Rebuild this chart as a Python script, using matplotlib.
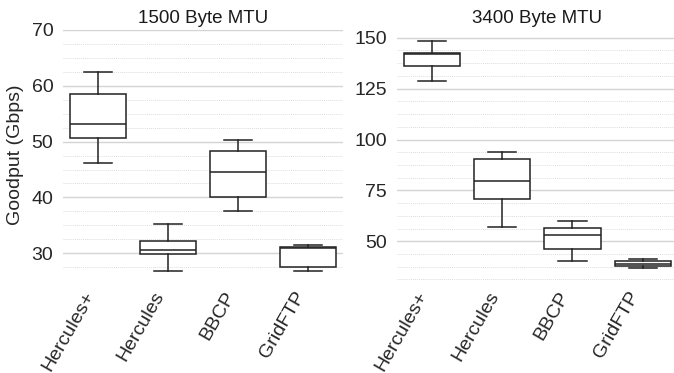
import matplotlib
matplotlib.use("Agg")
import matplotlib.pyplot as plt
from matplotlib.ticker import MultipleLocator

plt.rcParams['font.family'] = ['Liberation Sans', 'DejaVu Sans']

tools = ["Hercules+", "Hercules", "BBCP", "GridFTP"]

# 1500 Byte MTU goodput stats (Gbps)
mtu1500_whislo = [46.2, 26.9, 37.6, 26.9]
mtu1500_q1 = [50.6, 29.8, 40.1, 27.5]
mtu1500_med = [53.1, 30.5, 44.6, 30.9]
mtu1500_q3 = [58.5, 32.2, 48.3, 31.2]
mtu1500_whishi = [62.5, 35.3, 50.3, 31.5]

# 3400 Byte MTU goodput stats (Gbps)
mtu3400_whislo = [128.7, 56.9, 40.2, 36.9]
mtu3400_q1 = [136.1, 70.7, 46.3, 38.0]
mtu3400_med = [141.8, 79.7, 53.1, 38.9]
mtu3400_q3 = [142.6, 90.2, 56.4, 40.2]
mtu3400_whishi = [148.2, 93.9, 60.1, 41.2]

W, H = 674, 373
fig = plt.figure(figsize=(W / 100, H / 100), dpi=100)

top_px, bot_px = 30, 280
ax1 = fig.add_axes([63 / W, 1 - bot_px / H, 280 / W, (bot_px - top_px) / H])
ax2 = fig.add_axes([396.5 / W, 1 - bot_px / H, 281.5 / W, (bot_px - top_px) / H])

def make_stats(lo, q1, med, q3, hi):
    return [dict(whislo=a, q1=b, med=c, q3=d, whishi=e, fliers=[], label=t)
            for a, b, c, d, e, t in zip(lo, q1, med, q3, hi, tools)]

line_c = '#222222'
panels = [
    (ax1, make_stats(mtu1500_whislo, mtu1500_q1, mtu1500_med, mtu1500_q3, mtu1500_whishi),
     "1500 Byte MTU", (25.2, 70.0), 10, 2.5),
    (ax2, make_stats(mtu3400_whislo, mtu3400_q1, mtu3400_med, mtu3400_q3, mtu3400_whishi),
     "3400 Byte MTU", (31.0, 153.8), 25, 6.25),
]

for ax, stats, title, ylim, major, minor in panels:
    ax.bxp(stats, positions=range(len(tools)), widths=0.8, showfliers=False,
           patch_artist=True,
           boxprops=dict(facecolor='white', edgecolor=line_c, linewidth=1.1),
           medianprops=dict(color=line_c, linewidth=1.1),
           whiskerprops=dict(color=line_c, linewidth=1.1),
           capprops=dict(color=line_c, linewidth=1.1))
    ax.set_xlim(-0.5, len(tools) - 0.5)
    ax.set_ylim(*ylim)
    ax.yaxis.set_major_locator(MultipleLocator(major))
    ax.yaxis.set_minor_locator(MultipleLocator(minor))
    ax.grid(which='major', axis='y', color='#d4d4d4', linewidth=1.0, linestyle='-')
    ax.grid(which='minor', axis='y', color='#dedede', linewidth=0.7, linestyle=(0, (1, 1)))
    ax.set_axisbelow(True)
    for s in ax.spines.values():
        s.set_visible(False)
    ax.tick_params(axis='both', which='both', length=0, labelsize=14, colors='#262626')
    ax.tick_params(axis='y', pad=7)
    ax.tick_params(axis='x', pad=6)
    ax.set_xticks(range(len(tools)))
    ax.set_xticklabels(tools, rotation=60, ha='right')
    ax.set_title(title, fontsize=13.5, color='#1a1a1a', pad=5)

ax1.set_ylabel("Goodput (Gbps)", fontsize=14, color='#262626', labelpad=5)

fig.savefig("out.png", dpi=100)
